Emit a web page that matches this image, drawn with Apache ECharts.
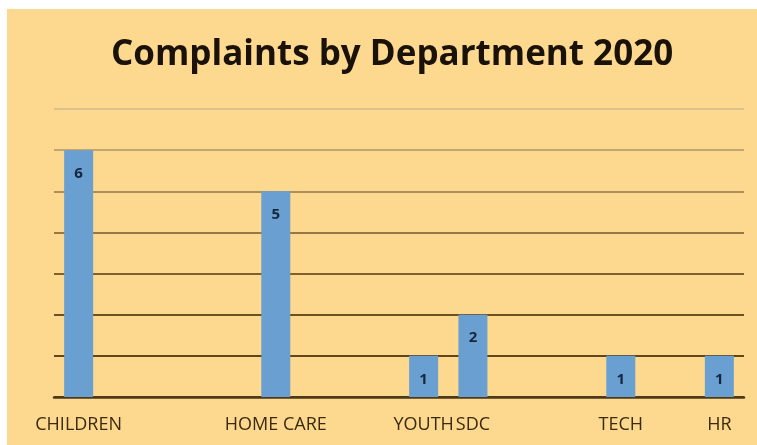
<!DOCTYPE html>
<html>
<head>
<meta charset="utf-8">
<script src="https://cdn.jsdelivr.net/npm/echarts@6/dist/echarts.min.js"></script>
<style>
  html, body { margin: 0; padding: 0; background: #ffffff; }
  #chart { position: absolute; left: 7px; top: 9px; width: 750px; height: 436px; }
</style>
</head>
<body>
<div id="chart"></div>
<script>
// departments (blank slots keep the original spacing)
var departments = ['CHILDREN', '', '', '', 'HOME CARE', '', '', 'YOUTH', 'SDC', '', '', 'TECH', '', 'HR']
var complaints = [6, null, null, null, 5, null, null, 1, 2, null, null, 1, null, 1]

var chart = echarts.init(document.getElementById('chart'))

chart.setOption({
  backgroundColor: '#FDD88F',
  animation: false,
  title: {
    text: 'Complaints by Department 2020',
    left: 99,
    top: 24,
    textStyle: {
      fontFamily: 'Open Sans',
      fontWeight: 'bold',
      fontSize: 35,
      color: '#1a1208'
    }
  },
  grid: {
    left: 47,
    right: 13,
    top: 100,
    bottom: 48
  },
  xAxis: {
    type: 'category',
    data: departments,
    axisLine: {
      show: true,
      lineStyle: { color: '#4f3818', width: 2.5 }
    },
    axisTick: { show: false },
    axisLabel: {
      interval: 0,
      margin: 19,
      fontFamily: 'Open Sans',
      fontSize: 18,
      color: '#3a2a0e'
    }
  },
  yAxis: {
    type: 'value',
    min: 0,
    max: 7,
    interval: 1,
    axisLine: { show: false },
    axisTick: { show: false },
    axisLabel: { show: false },
    splitLine: {
      show: true,
      lineStyle: {
        width: 2,
        color: ['#4f3818', '#634519', '#6f5020', '#80612e', '#977744', '#ad8e5a', '#c3a56f', '#dcc28c']
      }
    }
  },
  series: [{
    type: 'bar',
    data: complaints,
    barWidth: 29,
    itemStyle: { color: '#6a9fd2' },
    label: {
      show: true,
      position: 'insideTop',
      distance: 16,
      fontFamily: 'Open Sans',
      fontWeight: 'bold',
      fontSize: 15,
      color: '#17263d'
    }
  }]
})
</script>
</body>
</html>
